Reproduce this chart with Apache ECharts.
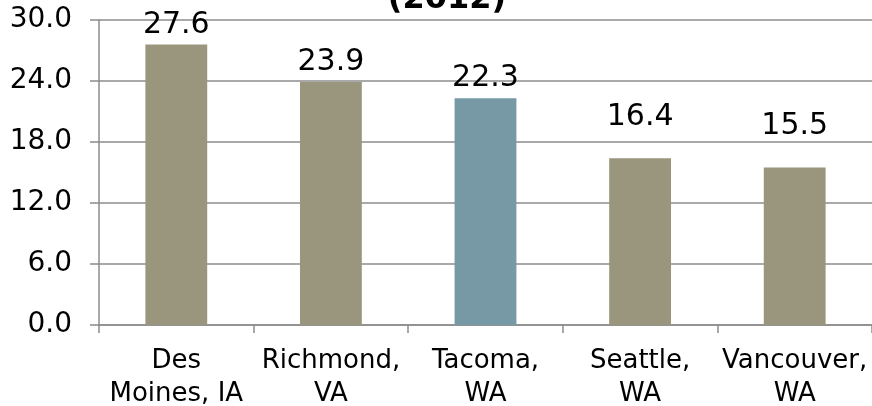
<!DOCTYPE html>
<html>
<head>
<meta charset="utf-8">
<script src="https://cdn.jsdelivr.net/npm/echarts@6/dist/echarts.min.js"></script>
<style>
  html, body { margin: 0; padding: 0; background: #fff; }
  #chart { width: 872px; height: 406px; }
</style>
</head>
<body>
<div id="chart"></div>
<script>
// city names, two lines each like the original axis
var cities = ['Des\nMoines, IA', 'Richmond,\nVA', 'Tacoma,\nWA', 'Seattle,\nWA', 'Vancouver,\nWA'];
var rates = [27.6, 23.9, 22.3, 16.4, 15.5];
var yTicks = [0, 6, 12, 18, 24, 30];
var highlightCity = 'Tacoma,\nWA';

var olive = '#99967d';
var teal = '#7699a5';
var fontFam = '"DejaVu Sans", Verdana, sans-serif';
// gap above each bar for the value label (excel put them a bit unevenly)
var labelGap = [4, 5, 5, 26, 26];

var myChart = echarts.init(document.getElementById('chart'));

var barData = rates.map(function (v, i) {
    return {
        value: v,
        itemStyle: { color: cities[i] === highlightCity ? teal : olive },
        label: { distance: labelGap[i] }
    };
});

var options = {
    animation: false,
    title: {
        text: '(2012)',
        left: 442,
        top: -21,
        textAlign: 'center',
        textStyle: { fontFamily: fontFam, fontWeight: 'bold', fontSize: 32, color: '#000' }
    },
    grid: { left: 99, right: 0, top: 20, bottom: 81, outerBoundsMode: 'none', containLabel: false },
    xAxis: {
        type: 'category',
        data: cities,
        axisLine: { lineStyle: { color: '#8c8c8c', width: 1.5 } },
        axisTick: { show: true, length: 8, lineStyle: { color: '#8c8c8c', width: 1.5 } },
        axisLabel: {
            fontFamily: fontFam, fontSize: 26, color: '#000',
            lineHeight: 33, margin: 20, interval: 0
        }
    },
    yAxis: {
        type: 'value',
        min: yTicks[0],
        max: yTicks[yTicks.length - 1],
        interval: yTicks[1] - yTicks[0],
        axisLine: { show: true, lineStyle: { color: '#8c8c8c', width: 1.5 } },
        axisTick: { show: true, length: 9, lineStyle: { color: '#8c8c8c', width: 1.5 } },
        splitLine: { lineStyle: { color: '#8c8c8c', width: 1.5 } },
        axisLabel: {
            fontFamily: fontFam, fontSize: 28, color: '#000', margin: 27,
            formatter: function (v) { return v.toFixed(1); }
        }
    },
    series: [{
        type: 'bar',
        data: barData,
        barWidth: '40%',
        label: {
            show: true,
            position: 'top',
            fontFamily: fontFam, fontSize: 30, color: '#000',
            formatter: function (p) { return p.value.toFixed(1); }
        }
    }]
};
myChart.setOption(options);
</script>
</body>
</html>
